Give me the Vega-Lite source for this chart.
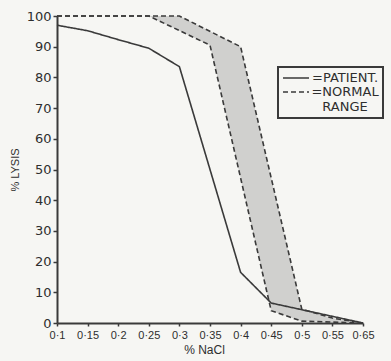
{
  "$schema": "https://vega.github.io/schema/vega-lite/v6.json",
  "width": 306,
  "height": 307,
  "autosize": {"type": "none"},
  "padding": {"left": 57, "top": 16, "right": 28, "bottom": 38},
  "background": "#f6f6f3",
  "config": {
    "view": {"stroke": null},
    "font": "DejaVu Sans",
    "axis": {"domainColor": "#3a3a3a", "domainWidth": 2, "tickColor": "#3a3a3a", "tickWidth": 1.5, "tickSize": 4, "labelColor": "#2e2e2e", "titleColor": "#2e2e2e", "grid": false, "titleFontWeight": "normal", "labelOverlap": false},
    "axisX": {
      "values": [0.1, 0.15, 0.2, 0.25, 0.3, 0.35, 0.4, 0.45, 0.5, 0.55, 0.6],
      "labelExpr": "datum.value > 0.59 ? '0·65' : replace(format(datum.value, '.2~f'), '.', '·')",
      "labelFont": "Liberation Sans", "labelFontSize": 11, "labelOverlap": false, "labelFlush": false,
      "labelPadding": 3, "tickSize": 3,
      "titleFont": "Liberation Sans", "titleFontSize": 12, "titlePadding": 4, "titleX": 147
    },
    "axisY": {
      "values": [0, 10, 20, 30, 40, 50, 60, 70, 80, 90, 100],
      "labelFontSize": 13, "labelPadding": 2, "labelOverlap": false,
      "titleFont": "Liberation Sans", "titleFontSize": 11, "titlePadding": 6
    }
  },
  "datasets": {
    "lines": [
      {"c": 0.1, "curve": "patient", "pct": 97},
      {"c": 0.15, "curve": "patient", "pct": 95.2},
      {"c": 0.2, "curve": "patient", "pct": 92.3},
      {"c": 0.25, "curve": "patient", "pct": 89.5},
      {"c": 0.3, "curve": "patient", "pct": 83.5},
      {"c": 0.4, "curve": "patient", "pct": 16.5},
      {"c": 0.45, "curve": "patient", "pct": 6.5},
      {"c": 0.6, "curve": "patient", "pct": 0},
      {"c": 0.1, "curve": "normal-lo", "pct": 100},
      {"c": 0.25, "curve": "normal-lo", "pct": 100},
      {"c": 0.35, "curve": "normal-lo", "pct": 90.5},
      {"c": 0.45, "curve": "normal-lo", "pct": 4},
      {"c": 0.5, "curve": "normal-lo", "pct": 0.6},
      {"c": 0.6, "curve": "normal-lo", "pct": 0},
      {"c": 0.1, "curve": "normal-hi", "pct": 100},
      {"c": 0.3, "curve": "normal-hi", "pct": 100},
      {"c": 0.4, "curve": "normal-hi", "pct": 90},
      {"c": 0.5, "curve": "normal-hi", "pct": 4.5},
      {"c": 0.55, "curve": "normal-hi", "pct": 1.6},
      {"c": 0.6, "curve": "normal-hi", "pct": 0}
    ],
    "band": [
      {"c": 0.1, "lo": 100, "hi": 100},
      {"c": 0.25, "lo": 100, "hi": 100},
      {"c": 0.3, "lo": 95.2, "hi": 100},
      {"c": 0.35, "lo": 90.5, "hi": 95},
      {"c": 0.4, "lo": 47.2, "hi": 90},
      {"c": 0.45, "lo": 4, "hi": 47.2},
      {"c": 0.5, "lo": 0.6, "hi": 4.5},
      {"c": 0.55, "lo": 0.3, "hi": 1.6},
      {"c": 0.6, "lo": 0, "hi": 0}
    ]
  },
  "layer": [
    {
      "data": {"name": "band"},
      "mark": {"type": "area", "color": "#d0d0ce", "opacity": 1},
      "encoding": {
        "x": {"field": "c", "type": "quantitative",
          "scale": {"domain": [0.1, 0.6], "nice": false, "zero": false},
          "title": "% NaCl"
        },
        "y": {"field": "hi", "type": "quantitative",
          "scale": {"domain": [0, 100], "nice": false},
          "title": "% LYSIS"
        },
        "y2": {"field": "lo"}
      }
    },
    {
      "data": {"name": "lines"},
      "mark": {"type": "line", "color": "#3a3a3a", "strokeWidth": 1.6},
      "encoding": {
        "x": {"field": "c", "type": "quantitative", "title": "% NaCl"},
        "y": {"field": "pct", "type": "quantitative", "title": "% LYSIS"},
        "detail": {"field": "curve"},
        "strokeDash": {"field": "curve", "type": "nominal",
          "scale": {"domain": ["patient", "normal-lo", "normal-hi"], "range": [[1, 0], [5, 3], [5, 3]]},
          "legend": {
            "values": ["patient", "normal-lo"],
            "title": null,
            "orient": "none", "legendX": 221, "legendY": 51,
            "labelExpr": "datum.value == 'patient' ? '=PATIENT.' : ['=NORMAL', 'RANGE']",
            "labelFont": "DejaVu Sans", "labelFontSize": 13, "labelColor": "#2e2e2e",
            "labelAlign": "center", "labelOffset": 35,
            "symbolType": "stroke", "symbolSize": 676, "symbolStrokeColor": "#3a3a3a", "symbolStrokeWidth": 1.5,
            "strokeColor": "#3a3a3a", "padding": 4, "rowPadding": -2,
            "encode": {
              "legend": {"update": {"strokeWidth": {"value": 2}}},
              "symbols": {"update": {"y": {"value": 7}}},
              "labels": {"update": {"y": {"value": 7}, "dy": {"value": 0}}}
            }
          }
        }
      }
    }
  ]
}
